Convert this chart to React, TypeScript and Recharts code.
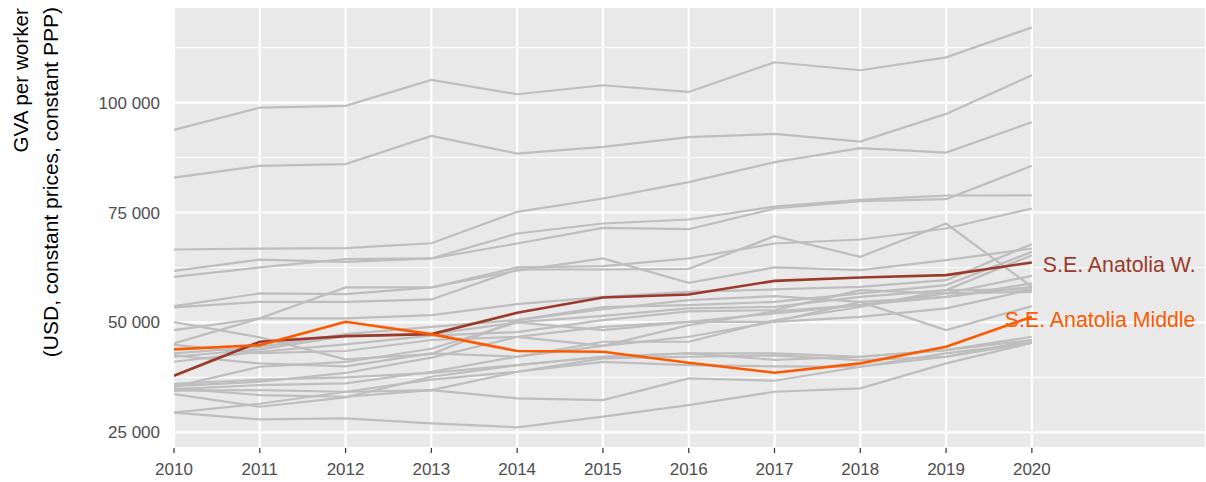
import React from "react";
import { LineChart, Line, XAxis, YAxis, CartesianGrid } from "recharts";

const years = [2010, 2011, 2012, 2013, 2014, 2015, 2016, 2017, 2018, 2019, 2020];

// Highlighted regions
const seAnatoliaW = [37870, 45600, 46890, 47340, 52180, 55680, 56360, 59450, 60230, 60750, 63640];
const seAnatoliaMiddle = [43860, 44840, 50140, 47340, 43480, 43330, 40820, 38550, 40680, 44450, 51270];

// Other regions (grey)
const r01 = [93800, 98860, 99250, 105160, 101900, 103950, 102430, 109180, 107360, 110300, 117100];
const r02 = [82950, 85610, 86000, 92430, 88410, 89930, 92130, 92890, 91140, 97430, 106230];
const r03 = [66590, 66800, 66900, 68000, 75160, 78180, 81900, 86450, 89640, 88640, 95550];
const r04 = [61730, 64260, 63780, 64550, 70230, 72500, 73410, 76350, 77870, 78870, 78900];
const r05 = [60370, 62500, 64390, 64550, 67950, 71510, 71200, 75910, 77560, 78030, 85620];
const r06 = [53700, 56590, 56430, 57950, 62500, 62790, 64550, 67950, 68860, 71360, 75910];
const r07 = [53410, 54680, 54680, 55230, 62040, 62040, 62180, 69610, 64910, 72500, 58090];
const r08 = [45230, 50910, 57950, 57950, 61800, 64550, 59000, 62500, 61890, 64160, 66820];
const r09 = [48250, 50910, 50910, 51660, 54160, 55820, 56960, 57500, 58090, 59610, 67800];
const r10 = [50070, 46590, 41590, 42800, 50520, 53000, 55070, 55980, 54680, 48250, 53700];
const r11 = [42950, 44450, 47340, 49000, 50520, 53500, 53930, 54680, 56590, 58480, 66050];
const r12 = [42190, 43860, 46890, 47340, 50000, 51500, 53180, 53550, 55820, 57340, 65300];
const r13 = [41050, 43330, 45000, 47000, 47800, 50500, 52500, 52800, 57340, 56590, 60600];
const r14 = [44900, 43000, 43500, 46000, 46730, 49000, 50140, 52040, 53930, 55820, 58860];
const r15 = [35370, 39910, 41000, 44000, 50000, 48250, 50140, 50140, 51270, 53180, 57500];
const r16 = [35500, 36500, 38500, 42000, 46730, 44680, 49390, 52500, 53930, 56590, 56960];
const r17 = [34840, 35750, 36140, 38770, 42190, 44680, 46730, 50140, 54680, 55820, 58090];
const r18 = [42500, 40680, 40000, 42950, 42190, 45600, 45600, 50500, 53500, 57340, 57500];
const r19 = [33700, 30820, 32950, 37640, 40300, 42190, 42950, 42950, 42190, 43700, 46730];
const r20 = [34500, 34610, 34230, 37000, 38770, 41800, 42190, 42500, 41430, 42190, 45980];
const r21 = [35000, 33480, 33090, 34610, 38770, 41000, 40300, 40000, 39910, 42190, 45360];
const r22 = [29460, 31500, 34230, 34610, 32730, 32340, 37270, 36730, 39910, 42950, 45360];
const r23 = [29460, 27950, 28180, 27050, 26140, 28550, 31200, 34230, 35000, 40680, 45360];
const r24 = [36000, 37000, 37500, 38500, 40300, 42190, 42950, 41500, 42190, 43700, 45980];

const greySeries = [r01, r02, r03, r04, r05, r06, r07, r08, r09, r10, r11, r12, r13, r14, r15, r16, r17, r18, r19, r20, r21, r22, r23, r24];

const xTicks = [2010, 2011, 2012, 2013, 2014, 2015, 2016, 2017, 2018, 2019, 2020];
const yTicks = [25000, 50000, 75000, 100000];
const yMinor = [37500, 62500, 87500, 112500];
const yDomain = [21430, 121750];

const data = years.map((year, i) => {
  const row: Record<string, number> = { year, w: seAnatoliaW[i], m: seAnatoliaMiddle[i] };
  greySeries.forEach((s, k) => {
    row["g" + k] = s[i];
  });
  return row;
});

const FONT = "'Liberation Sans', Arial, sans-serif";
const RED = "#9b3a2a";
const ORANGE = "#fb5a00";
const GREY = "#bebebe";

const fmt = (v: number) => {
  const s = String(Math.round(v));
  return s.replace(/\B(?=(\d{3})+(?!\d))/g, " ");
};

const minorGen = (p: any) => {
  const top = p.offset.top;
  const h = p.offset.height;
  return yMinor.map((v) => top + (h * (yDomain[1] - v)) / (yDomain[1] - yDomain[0]));
};

const makeEndLabel = (text: string, color: string, dx: number) => (props: any) => {
  const { x, y, index } = props;
  if (index !== years.length - 1) return <g />;
  return (
    <text x={x + dx} y={y + 10} fill={color} fontSize={21.3} fontFamily={FONT} textAnchor="start">
      {text}
    </text>
  );
};

const YTitle = () => (
  <g>
    <text transform="translate(28,8) rotate(-90)" textAnchor="end" fontSize={20.7} fontFamily={FONT} fill="#000">
      GVA per worker
    </text>
    <text transform="translate(58,7) rotate(-90)" textAnchor="end" fontSize={21} fontFamily={FONT} fill="#000">
      (USD, constant prices, constant PPP)
    </text>
  </g>
);

export default function App() {
  return (
    <div style={{ position: "absolute", left: 0, top: 0, width: 1206, height: 482, background: "#fff" }}>
      <LineChart width={1206} height={482} data={data} margin={{ top: 7, right: 0, bottom: 0, left: 0 }}>
        <CartesianGrid fill="#e9e9e9" stroke="#ffffff" strokeWidth={2.2} vertical={true} horizontal={true} />
        <CartesianGrid stroke="#ffffff" strokeWidth={1.1} vertical={false} horizontalCoordinatesGenerator={minorGen} />
        <XAxis
          dataKey="year"
          type="number"
          domain={[2010, 2022.03]}
          ticks={xTicks}
          allowDataOverflow
          height={34}
          axisLine={false}
          tickLine={{ stroke: "#333333", strokeWidth: 1.2 }}
          tickSize={5}
          tickMargin={10}
          tick={{ fontSize: 17, fill: "#4d4d4d", fontFamily: FONT }}
        />
        <YAxis
          type="number"
          domain={yDomain}
          ticks={yTicks}
          allowDataOverflow
          width={174}
          axisLine={false}
          tickLine={false}
          tickSize={0}
          tickMargin={14}
          tickFormatter={fmt}
          tick={{ fontSize: 17, fill: "#4d4d4d", fontFamily: FONT }}
          label={{ content: () => <YTitle /> }}
        />
        {greySeries.map((_, k) => (
          <Line
            key={"g" + k}
            dataKey={"g" + k}
            type="linear"
            stroke={GREY}
            strokeWidth={2.2}
            dot={false}
            activeDot={false}
            isAnimationActive={false}
          />
        ))}
        <Line
          dataKey="w"
          type="linear"
          stroke={RED}
          strokeWidth={2.6}
          dot={false}
          activeDot={false}
          isAnimationActive={false}
          label={makeEndLabel("S.E. Anatolia W.", RED, 11)}
        />
        <Line
          dataKey="m"
          type="linear"
          stroke={ORANGE}
          strokeWidth={2.6}
          dot={false}
          activeDot={false}
          isAnimationActive={false}
          label={makeEndLabel("S.E. Anatolia Middle", ORANGE, -27)}
        />
      </LineChart>
    </div>
  );
}
